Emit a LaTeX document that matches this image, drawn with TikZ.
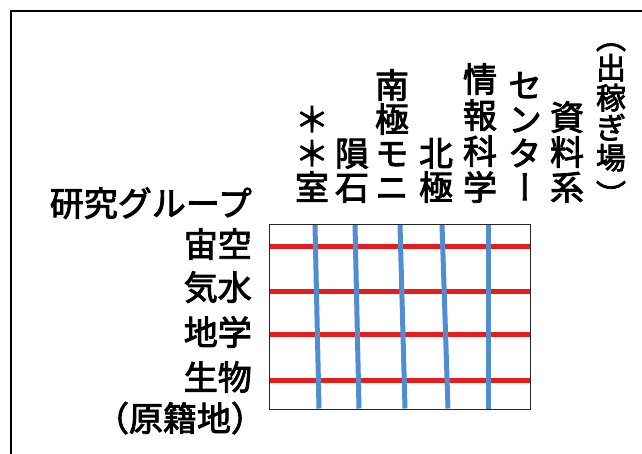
\documentclass[tikz,border=0pt]{standalone}
\usepackage{fontspec}
\newfontfamily\jp[FakeBold=2.6]{Noto Sans CJK JP}
\newfontfamily\jpv[RawFeature=+vert,FakeBold=2.6]{Noto Sans CJK JP}
\definecolor{gridred}{RGB}{232,28,28}
\definecolor{gridblue}{RGB}{80,142,210}
\newcommand\zs{\rule[-0.12em]{0pt}{1em}}
\newcommand\vtext[2]{\vbox{\baselineskip=#1pt\lineskiplimit=-100pt\lineskip=0pt\halign{\hfil##\hfil\cr#2\crcr}}}
\begin{document}
\begin{tikzpicture}[x=1pt,y=-1pt,
  hlabel/.style={font=\jp\fontsize{34}{34}\selectfont, inner sep=0},
  vcol/.style={font=\jpv\fontsize{34}{34}\selectfont, inner sep=0, anchor=base},
  redline/.style={draw=gridred, line width=5pt},
  blueline/.style={draw=gridblue, line width=5pt},
  frameline/.style={draw=black, line width=2pt},
  gridbox/.style={draw=black!85, line width=1pt}]
\useasboundingbox (0,0) rectangle (642,453);
\clip (0,0) rectangle (642,453);
% outer frame (only top and left edges visible)
\coordinate (fbl) at (11,460);
\coordinate (ftl) at (11,10.5);
\coordinate (ftr) at (660,10.5);
\draw[frameline] (fbl) -- (ftl) -- (ftr);
% column headers (vertical text)
\node[vcol] (c1) at (312,200) {\vtext{34}{＊\zs\cr ＊\zs\cr 室\zs}};
\node[vcol] (c2) at (352,200) {\vtext{34}{隕\zs\cr 石\zs}};
\node[vcol] (c3) at (392,200) {\vtext{34}{南\zs\cr 極\zs\cr モ\zs\cr ニ\zs}};
\node[vcol] (c4) at (436,200) {\vtext{34}{北\zs\cr 極\zs}};
\node[vcol] (c5) at (480,200) {\vtext{36}{情\zs\cr 報\zs\cr 科\zs\cr 学\zs}};
\node[vcol] (c6) at (525,200) {\vtext{34}{セ\zs\cr ン\zs\cr タ\zs\cr ー\zs}};
\node[vcol] (c7) at (567,200) {\vtext{35}{資\zs\cr 料\zs\cr 系\zs}};
\node[vcol, font=\jp\fontsize{30}{30}\selectfont] (c8) at (611,199) {\vtext{30}{︵\zs\cr 出\zs\cr 稼\zs\cr ぎ\zs\cr 場\zs\cr \raisebox{-7pt}{︶}\zs}};
% row labels
\node[hlabel, anchor=base east] (title) at (252,216) {研究グループ};
\node[hlabel, anchor=base east] (r1) at (252,257) {宙空};
\node[hlabel, anchor=base east] (r2) at (252,300) {気水};
\node[hlabel, anchor=base east] (r3) at (252,345) {地学};
\node[hlabel, anchor=base east] (r4) at (252,390) {生物};
\node[hlabel, anchor=base] (r5) at (180,431) {（原籍地）};
% grid
\coordinate (gtl) at (269,224);
\coordinate (gbr) at (530,409);
\foreach \y in {246,291,334,380}
  \draw[redline] (269.5,\y) -- (529.5,\y);
\foreach \xa/\xb in {315/319,355/359,400/405,442/448,488/488}
  \draw[blueline] (\xa,224.5) -- (\xb,408.5);
\draw[gridbox] (gtl) rectangle (gbr);
\end{tikzpicture}
\end{document}
